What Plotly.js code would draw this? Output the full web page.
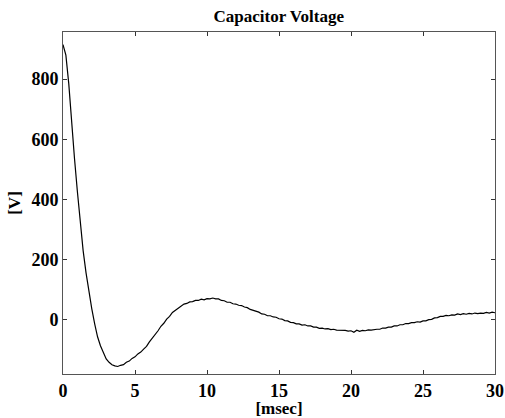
<!DOCTYPE html>
<html>
<head>
<meta charset="utf-8">
<script src="https://cdn.plot.ly/plotly-3.0.1.min.js"></script>
<style>html,body{margin:0;padding:0;background:#fff;}#chart{width:505px;height:418px;}</style>
</head>
<body>
<div id="chart"></div>
<script>
// time [msec], sampled every 0.2 ms
const timeMs = Array.from({length: 151}, (_, i) => +(i * 0.2).toFixed(1));
// capacitor voltage [V]
const voltage = [
  915, 880, 785, 650, 535, 425, 318, 228, 155, 90,
  35, -15, -58, -88, -113, -132, -143, -151, -155, -157,
  -153, -151, -143, -139, -130, -125, -115, -109, -99, -90,
  -75, -63, -49, -38, -23, -13, 1, 10, 23, 30,
  40, 44, 51, 53, 58, 59, 63, 63, 67, 65,
  69, 68, 71, 68, 68, 63, 62, 57, 57, 52,
  51, 47, 46, 41, 39, 33, 30, 25, 24, 18,
  17, 12, 12, 8, 7, 2, 1, -4, -5, -10,
  -11, -15, -15, -19, -18, -22, -22, -26, -26, -30,
  -29, -32, -31, -34, -33, -36, -36, -38, -37, -39,
  -38, -43, -36, -40, -37, -38, -35, -36, -34, -33,
  -33, -29, -29, -26, -26, -22, -22, -18, -18, -14,
  -14, -11, -11, -8, -9, -5, -5, -1, 0, 5,
  6, 10, 10, 13, 12, 15, 14, 18, 16, 19,
  17, 20, 18, 21, 19, 21, 20, 23, 21, 24, 22
];
const xTicks = [0, 5, 10, 15, 20, 25, 30];
const yTicks = [0, 200, 400, 600, 800];

const font = {family: 'Liberation Serif, Times New Roman, serif', color: '#000'};
const axisCommon = {
  showgrid: false, zeroline: false, showline: true, linecolor: '#555', linewidth: 1,
  mirror: 'ticks', ticks: 'inside', ticklen: 4, tickcolor: '#333', tickwidth: 1,
  tickfont: Object.assign({size: 18, weight: 'bold'}, font)
};
Plotly.newPlot('chart', [{
  x: timeMs, y: voltage, type: 'scatter', mode: 'lines',
  line: {color: '#000', width: 1.2}, hoverinfo: 'skip'
}], {
  width: 505, height: 418,
  margin: {l: 63, r: 10, t: 32, b: 44},
  paper_bgcolor: '#fff', plot_bgcolor: '#fff',
  showlegend: false,
  title: {text: '<b>Capacitor Voltage</b>', x: 0.552, xanchor: 'center', y: 0.962, yanchor: 'middle',
          font: Object.assign({size: 17}, font)},
  xaxis: Object.assign({}, axisCommon, {
    range: [0, 30], tickvals: xTicks, ticktext: xTicks.map(String),
    title: {text: '<b>[msec]</b>', standoff: 3, font: Object.assign({size: 17}, font)}
  }),
  yaxis: Object.assign({}, axisCommon, {
    range: [-182, 957], tickvals: yTicks, ticktext: yTicks.map(String),
    title: {text: '<b>[V]</b>', standoff: 6, font: Object.assign({size: 17}, font)}
  })
}, {staticPlot: true});
</script>
</body>
</html>
